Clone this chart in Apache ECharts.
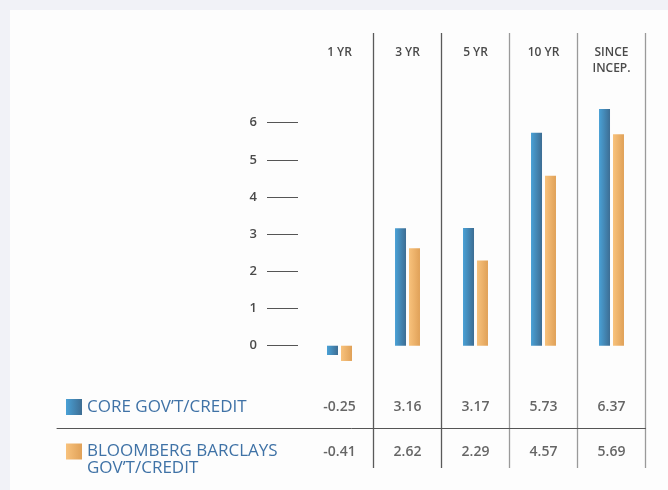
<!DOCTYPE html>
<html>
<head>
<meta charset="utf-8">
<script src="https://cdn.jsdelivr.net/npm/echarts@6/dist/echarts.min.js"></script>
<style>
body{margin:0;background:#f1f2f7;}
#wrap{position:relative;width:668px;height:490px;}
#panel{position:absolute;left:10px;top:10px;right:0;bottom:0;background:#fdfdfd;}
#container{position:absolute;left:0;top:0;width:668px;height:490px;}
</style>
</head>
<body>
<div id="wrap"><div id="panel"></div><div id="container"></div></div>
<script type="text/javascript">
var periods = ['1 YR', '3 YR', '5 YR', '10 YR', 'SINCE\nINCEP.'];
var coreName = 'CORE GOV\u2019T/CREDIT';
var benchName = 'BLOOMBERG BARCLAYS GOV\u2019T/CREDIT';
var coreValues = [-0.25, 3.16, 3.17, 5.73, 6.37];
var benchValues = [-0.41, 2.62, 2.29, 4.57, 5.69];
var rowKeys = ['core', 'bench'];

var font = '"Open Sans", sans-serif';
var blue = new echarts.graphic.LinearGradient(0, 0, 1, 0, [
    {offset: 0, color: '#4aa1d6'}, {offset: 1, color: '#3d6d93'}]);
var orange = new echarts.graphic.LinearGradient(0, 0, 1, 0, [
    {offset: 0, color: '#f8c27c'}, {offset: 1, color: '#e0a158'}]);

// table cells: [column, row, value]
function rowData(vals, row) {
    return vals.map(function (v, i) { return [i, row, v]; });
}

var myChart = echarts.init(document.getElementById('container'));
var option = {
    animation: false,
    textStyle: {fontFamily: font},
    legend: [
        {   // first row label
            left: 66, top: 398.5, padding: 0, orient: 'vertical', selectedMode: false,
            icon: 'rect', itemWidth: 16, itemHeight: 16,
            data: [coreName],
            textStyle: {fontFamily: font, fontSize: 17, lineHeight: 17, color: '#3f72a6'}
        },
        {   // second row label, two lines
            left: 66, top: 426, padding: 0, orient: 'vertical', selectedMode: false,
            icon: 'rect', itemWidth: 16, itemHeight: 16,
            data: [benchName],
            formatter: function () { return '\nBLOOMBERG BARCLAYS\nGOV\u2019T/CREDIT'; },
            textStyle: {fontFamily: font, fontSize: 17, lineHeight: 17, color: '#3f72a6'}
        }
    ],
    grid: [
        {left: 305.5, right: 22.5, top: 85.5, bottom: 107.1},   // bars
        {left: 298, width: 20, top: 122.7, bottom: 144.3},      // y ticks
        {left: 305.5, right: 22.5, top: 33, bottom: 22},        // headers + column lines
        {left: 57, right: 22.5, top: 386, bottom: 62},          // row rule
        {left: 305.5, right: 22.5, top: 385, bottom: 15}        // table values
    ],
    xAxis: [
        {gridIndex: 0, type: 'category', data: periods, show: false},
        {gridIndex: 1, type: 'value', show: false},
        {
            gridIndex: 2, type: 'category', data: periods, position: 'top',
            axisLine: {show: false}, axisTick: {show: false},
            axisLabel: {
                verticalAlign: 'top', margin: -12, interval: 0,
                fontFamily: font, fontSize: 12, fontWeight: 600, color: '#4a4a4a', lineHeight: 16
            },
            splitLine: {
                show: true, showMinLine: false,
                lineStyle: {color: ['#5a5a5a', '#5a5a5a', '#9a9a9a', '#9a9a9a', '#9a9a9a'], width: 1.3}
            }
        },
        {
            gridIndex: 3, type: 'value', min: 0, max: 1,
            axisLine: {show: true, onZero: false, lineStyle: {color: '#555', width: 1}},
            axisTick: {show: false}, axisLabel: {show: false}, splitLine: {show: false}
        },
        {gridIndex: 4, type: 'category', data: periods, show: false}
    ],
    yAxis: [
        {gridIndex: 0, type: 'value', min: -1, max: 7, show: false},
        {
            gridIndex: 1, type: 'value', min: 0, max: 6, interval: 1,
            axisLine: {show: false},
            axisTick: {show: true, length: 31, lineStyle: {color: '#555', width: 1}},
            axisLabel: {margin: 41, fontFamily: font, fontSize: 13, fontWeight: 600, color: '#4a4a4a'},
            splitLine: {show: false}
        },
        {gridIndex: 2, type: 'value', show: false},
        {gridIndex: 3, type: 'value', min: 0, max: 1, show: false},
        {gridIndex: 4, type: 'category', data: rowKeys, inverse: true, show: false}
    ],
    series: [
        {
            name: coreName, type: 'bar', xAxisIndex: 0, yAxisIndex: 0,
            data: coreValues, barWidth: 11, barGap: '27%',
            itemStyle: {color: blue}
        },
        {
            name: benchName, type: 'bar', xAxisIndex: 0, yAxisIndex: 0,
            data: benchValues, barWidth: 11, barGap: '27%',
            itemStyle: {color: orange}
        },
        {
            name: 'coreRow', type: 'scatter', xAxisIndex: 4, yAxisIndex: 4,
            data: rowData(coreValues, 0), symbolSize: 1,
            itemStyle: {color: 'rgba(0,0,0,0)'},
            label: {
                show: true, position: 'inside',
                formatter: function (p) { return p.value[2].toFixed(2); },
                fontFamily: font, fontSize: 14, fontWeight: 600, color: '#3f3f3f'
            }
        },
        {
            name: 'benchRow', type: 'scatter', xAxisIndex: 4, yAxisIndex: 4,
            data: rowData(benchValues, 1), symbolSize: 1,
            itemStyle: {color: 'rgba(0,0,0,0)'},
            label: {
                show: true, position: 'inside',
                formatter: function (p) { return p.value[2].toFixed(2); },
                fontFamily: font, fontSize: 14, fontWeight: 600, color: '#3f3f3f'
            }
        }
    ]
};
myChart.setOption(option);
</script>
</body>
</html>
